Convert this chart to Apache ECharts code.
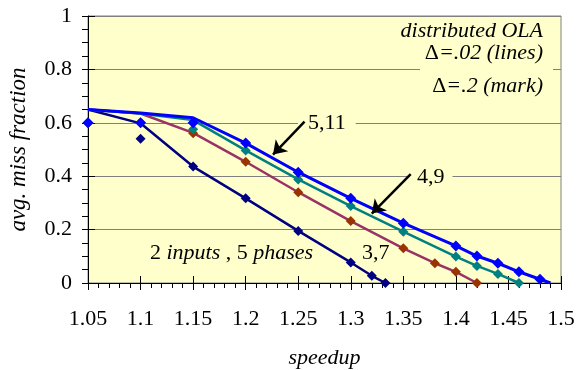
<!DOCTYPE html>
<html>
<head>
<meta charset="utf-8">
<script src="https://cdn.jsdelivr.net/npm/echarts@6/dist/echarts.min.js"></script>
<style>
  html, body { margin: 0; padding: 0; background: #fff; }
  #chart { width: 576px; height: 370px; }
</style>
</head>
<body>
<div id="chart"></div>
<script>
// lines (delta = .02)
const navyLine = [[1.05, 0.65], [1.1, 0.598], [1.15, 0.436], [1.2, 0.317], [1.25, 0.195], [1.3, 0.077], [1.32, 0.027], [1.333, 0]]
const plumLine = [[1.05, 0.65], [1.1, 0.635], [1.15, 0.562], [1.2, 0.454], [1.25, 0.34], [1.3, 0.232], [1.35, 0.13], [1.38, 0.074], [1.4, 0.042], [1.42, 0]]
const tealLine = [[1.05, 0.65], [1.1, 0.635], [1.15, 0.61], [1.2, 0.497], [1.25, 0.388], [1.3, 0.288], [1.35, 0.192], [1.4, 0.099], [1.42, 0.064], [1.44, 0.034], [1.46, 0]]
const blueLine = [[1.05, 0.65], [1.1, 0.637], [1.15, 0.619], [1.2, 0.524], [1.25, 0.415], [1.3, 0.317], [1.35, 0.224], [1.4, 0.139], [1.42, 0.101], [1.44, 0.074], [1.46, 0.042], [1.48, 0.014], [1.49, 0]]

// marks (delta = .2)
const navyMarks = [[1.05, 0.6], [1.1, 0.54], [1.15, 0.436], [1.2, 0.317], [1.25, 0.195], [1.3, 0.077], [1.32, 0.027], [1.333, 0]]
const brownMarks = [[1.05, 0.6], [1.1, 0.6], [1.15, 0.561], [1.2, 0.454], [1.25, 0.34], [1.3, 0.232], [1.35, 0.13], [1.38, 0.074], [1.4, 0.042], [1.42, 0]]
const tealMarks = [[1.05, 0.6], [1.1, 0.6], [1.15, 0.576], [1.2, 0.496], [1.25, 0.388], [1.3, 0.288], [1.35, 0.192], [1.4, 0.099], [1.42, 0.064], [1.44, 0.034], [1.46, 0]]
const blueMarks = [[1.05, 0.6], [1.1, 0.6], [1.15, 0.6], [1.2, 0.524], [1.25, 0.415], [1.3, 0.317], [1.35, 0.224], [1.4, 0.139], [1.42, 0.101], [1.44, 0.074], [1.46, 0.042], [1.48, 0.014]]

// arrows pointing at the curves
const arrows = [
  [[1.256, 0.604], [1.226, 0.481]],
  [[1.357, 0.408], [1.32, 0.26]]
]

const FONT = '"Liberation Serif", "Times New Roman", serif'
const chart = echarts.init(document.getElementById('chart'))

const axisBase = {
  type: 'value',
  axisLine: { show: true, lineStyle: { color: '#000', width: 1 } },
  splitLine: { show: false }
}

const lineSeries = (name, data, color, width) => ({
  name: name,
  type: 'line',
  data: data,
  showSymbol: false,
  symbol: 'none',
  lineStyle: { color: color, width: width },
  itemStyle: { color: color },
  z: 2,
  silent: true
})

const markSeries = (name, data, color, size) => ({
  name: name,
  type: 'scatter',
  data: data,
  symbol: 'diamond',
  symbolSize: size,
  itemStyle: { color: color, opacity: 1 },
  z: 3,
  silent: true
})

const navy = lineSeries('3,7', navyLine, '#000080', 2.5)
navy.markLine = {
  silent: true,
  animation: false,
  symbol: ['none', 'arrow'],
  symbolSize: 13,
  label: { show: false },
  lineStyle: { color: '#000', width: 2.5, type: 'solid' },
  data: arrows.map(a => [{ coord: a[0] }, { coord: a[1] }])
}

const option = {
  animation: false,
  backgroundColor: '#fff',
  grid: {
    left: 88, right: 15, top: 16, bottom: 87,
    containLabel: false,
    outerBoundsMode: 'none',
    show: true,
    backgroundColor: '#FFFFCC',
    borderColor: '#808080',
    borderWidth: 1
  },
  xAxis: [
    Object.assign({}, axisBase, {
      min: 1.05, max: 1.5, interval: 0.05,
      name: 'speedup',
      nameLocation: 'middle',
      nameGap: 64,
      nameTextStyle: { fontFamily: FONT, fontStyle: 'italic', fontSize: 22, color: '#000' },
      axisTick: { show: true, length: 7, lineStyle: { color: '#000' } },
      minorTick: { show: true, splitNumber: 5, length: 5, lineStyle: { color: '#000' } },
      axisLabel: {
        margin: 25, fontFamily: FONT, fontSize: 22, color: '#000',
        showMinLabel: true, showMaxLabel: true,
        formatter: v => String(+v.toFixed(2))
      }
    }),
    Object.assign({}, axisBase, {
      min: 1.05, max: 1.5, interval: 0.05,
      position: 'bottom',
      axisLine: { show: false },
      axisTick: { show: true, inside: true, length: 7, lineStyle: { color: '#000' } },
      axisLabel: { show: false }
    })
  ],
  yAxis: [
    Object.assign({}, axisBase, {
      min: 0, max: 1, interval: 0.2,
      name: 'avg. miss fraction',
      nameLocation: 'middle',
      nameGap: 58,
      nameTextStyle: { fontFamily: FONT, fontStyle: 'italic', fontSize: 23, color: '#000' },
      splitLine: { show: true, lineStyle: { color: '#808080', width: 1 } },
      axisTick: { show: true, length: 6, lineStyle: { color: '#000' } },
      minorTick: { show: true, splitNumber: 4, length: 6, lineStyle: { color: '#000' } },
      axisLabel: {
        margin: 16, fontFamily: FONT, fontSize: 22, color: '#000',
        showMinLabel: true, showMaxLabel: true
      }
    }),
    Object.assign({}, axisBase, {
      min: 0, max: 1, interval: 0.2,
      position: 'left',
      axisLine: { show: false },
      axisTick: { show: true, inside: true, length: 7, lineStyle: { color: '#000' } },
      axisLabel: { show: false }
    })
  ],
  series: [
    navy,
    lineSeries('4,9', plumLine, '#993366', 2.5),
    lineSeries('5,11 teal', tealLine, '#008080', 2.5),
    lineSeries('5,11', blueLine, '#0000FF', 3),
    markSeries('3,7 mark', navyMarks, '#000080', 10),
    markSeries('4,9 mark', brownMarks, '#993300', 10),
    markSeries('teal mark', tealMarks, '#008080', 10),
    markSeries('blue mark', blueMarks, '#0000FF', 11)
  ],
  graphic: [
    // gap in the 0.8 gridline behind the legend text
    { type: 'rect', z: 1, shape: { x: 420, y: 66, width: 133, height: 10 }, style: { fill: '#FFFFCC' } },
    {
      type: 'text', z: 1,
      style: { x: 543, y: 31, text: 'distributed OLA', align: 'right', verticalAlign: 'middle',
        font: 'italic 22px ' + FONT, fill: '#000' }
    },
    {
      type: 'text', z: 1,
      style: { x: 543, y: 53, align: 'right', verticalAlign: 'middle', fill: '#000',
        text: '{u|Δ}{i|=.02 (lines)}',
        rich: { u: { font: '22px ' + FONT }, i: { font: 'italic 22px ' + FONT } } }
    },
    {
      type: 'text', z: 1,
      style: { x: 543, y: 86, align: 'right', verticalAlign: 'middle', fill: '#000',
        text: '{u|Δ}{i|=.2 (mark)}',
        rich: { u: { font: '22px ' + FONT }, i: { font: 'italic 22px ' + FONT } } }
    },
    {
      type: 'text', z: 1,
      style: { x: 298, y: 123, text: '5,11', verticalAlign: 'middle', font: '22px ' + FONT, fill: '#000',
        backgroundColor: '#FFFFCC', padding: [0, 10, 0, 10] }
    },
    {
      type: 'text', z: 1,
      style: { x: 410, y: 177, text: '4,9', verticalAlign: 'middle', font: '22px ' + FONT, fill: '#000',
        backgroundColor: '#FFFFCC', padding: [0, 8, 0, 7] }
    },
    {
      type: 'text', z: 1,
      style: { x: 362, y: 253, text: '3,7', verticalAlign: 'middle', font: '22px ' + FONT, fill: '#000' }
    },
    {
      type: 'text', z: 1,
      style: { x: 150, y: 253, verticalAlign: 'middle', fill: '#000',
        text: '{u|2 }{i|inputs}{u| , 5 }{i|phases}',
        rich: { u: { font: '22px ' + FONT }, i: { font: 'italic 22px ' + FONT } } }
    }
  ]
}

chart.setOption(option)
</script>
</body>
</html>
